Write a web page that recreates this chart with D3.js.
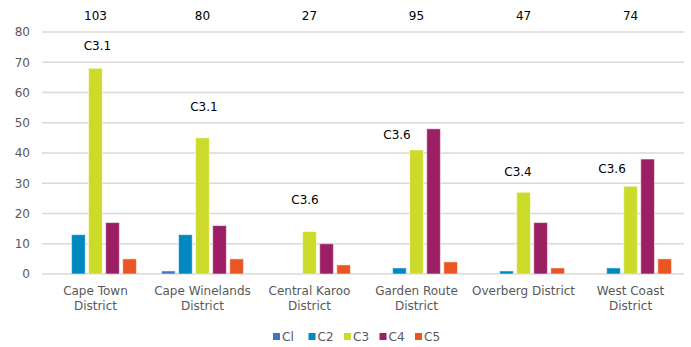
<!DOCTYPE html>
<html>
<head>
<meta charset="utf-8">
<script src="https://cdn.jsdelivr.net/npm/d3@7"></script>
<style>
  body { margin: 0; background: #fff; }
  text { font-family: "DejaVu Sans", sans-serif; }
</style>
</head>
<body>
<div id="chart"></div>
<script>
const districts = ["Cape Town District", "Cape Winelands District", "Central Karoo District",
  "Garden Route District", "Overberg District", "West Coast District"];
const series = ["Cl", "C2", "C3", "C4", "C5"];
const values = {
  "Cl": [0, 1, 0, 0, 0, 0],
  "C2": [13, 13, 0, 2, 1, 2],
  "C3": [68, 45, 14, 41, 27, 29],
  "C4": [17, 16, 10, 48, 17, 38],
  "C5": [5, 5, 3, 4, 2, 5]
};
const totals = [103, 80, 27, 95, 47, 74];
const notes = ["C3.1", "C3.1", "C3.6", "C3.6", "C3.4", "C3.6"];
const noteLevel = [75.4, 55.2, 24.5, 46, 33.7, 34.7];   // annotation height in axis units
const noteShift = [2, 1.5, -4.5, -19.5, -5.5, -18.5];    // px offset from group centre
const yTicks = [0, 10, 20, 30, 40, 50, 60, 70, 80];

const colors = ["#4472C4", "#0089C0", "#CCDA29", "#9C1F66", "#EA5622"];

const width = 691, height = 347;
const margin = { top: 32, right: 7, bottom: 73, left: 42 };
const innerW = width - margin.left - margin.right,
  innerH = height - margin.top - margin.bottom;

const svg = d3.select("#chart").append("svg")
  .attr("width", width).attr("height", height);

const g = svg.append("g")
  .attr("transform", "translate(" + margin.left + "," + margin.top + ")");

const x0 = d3.scaleBand().domain(districts).range([0, innerW]).paddingInner(0.235).paddingOuter(0.117);
const x1 = d3.scaleBand().domain(series).range([0, x0.bandwidth()]).paddingInner(0.2);
const y = d3.scaleLinear().domain([0, 80]).range([innerH, 0]);
const color = d3.scaleOrdinal(series, colors);

// gridlines
g.selectAll(".grid")
  .data(yTicks)
  .join("line")
  .attr("x1", 0).attr("x2", innerW)
  .attr("y1", d => y(d)).attr("y2", d => y(d))
  .attr("stroke", "#d9d9d9").attr("stroke-width", 1.5);

// y axis labels
const yAxis = d3.axisLeft(y).tickValues(yTicks).tickSize(0).tickPadding(12);
g.append("g").call(yAxis)
  .call(s => s.select(".domain").remove())
  .selectAll("text")
  .attr("fill", "#595959").style("font-size", "12px");

// bars
const groups = g.selectAll(".grp")
  .data(districts)
  .join("g")
  .attr("transform", d => "translate(" + x0(d) + ",0)");

groups.selectAll("rect")
  .data((d, i) => series.map(s => ({ key: s, value: values[s][i] })))
  .join("rect")
  .attr("x", d => x1(d.key))
  .attr("width", x1.bandwidth())
  .attr("y", d => y(d.value))
  .attr("height", d => innerH - y(d.value))
  .attr("fill", d => color(d.key))
  .attr("stroke", d => d.value > 0 ? "#ffffff" : "none")
  .attr("stroke-opacity", 0.5)
  .attr("stroke-width", 1);

// category labels
const xAxisG = g.append("g").attr("transform", "translate(0," + innerH + ")");
xAxisG.selectAll("text")
  .data(districts)
  .join("text")
  .attr("x", d => x0(d) + x0.bandwidth() / 2)
  .attr("y", 21)
  .attr("text-anchor", "middle")
  .attr("fill", "#595959")
  .style("font-size", "12px")
  .each(function (d) {
    const lines = d === "Overberg District" ? [d] : [d.replace(/ District$/, ""), "District"];
    d3.select(this).selectAll("tspan")
      .data(lines)
      .join("tspan")
      .attr("x", x0(d) + x0.bandwidth() / 2)
      .attr("dy", (l, i) => i === 0 ? 0 : 15)
      .text(l => l);
  });

// totals on top
g.selectAll(".total")
  .data(districts)
  .join("text")
  .attr("x", d => x0(d) + x0.bandwidth() / 2)
  .attr("y", -12)
  .attr("text-anchor", "middle")
  .attr("fill", "#000")
  .style("font-size", "12px")
  .text((d, i) => totals[i]);

// notes
g.selectAll(".note")
  .data(districts)
  .join("text")
  .attr("x", (d, i) => x0(d) + x0.bandwidth() / 2 + noteShift[i])
  .attr("y", (d, i) => y(noteLevel[i]))
  .attr("dy", "0.35em")
  .attr("text-anchor", "middle")
  .attr("fill", "#000")
  .style("font-size", "12px")
  .text((d, i) => notes[i]);

// legend
const legend = svg.append("g").attr("transform", "translate(273,333)");
const item = legend.selectAll("g")
  .data(series)
  .join("g")
  .attr("transform", (d, i) => "translate(" + (i * 35.5) + ",0)");
item.append("rect")
  .attr("width", 7).attr("height", 7)
  .attr("fill", d => color(d));
item.append("text")
  .attr("x", 9).attr("y", 4)
  .attr("dy", "0.35em")
  .attr("fill", "#595959")
  .style("font-size", "12px")
  .text(d => d);
</script>
</body>
</html>
